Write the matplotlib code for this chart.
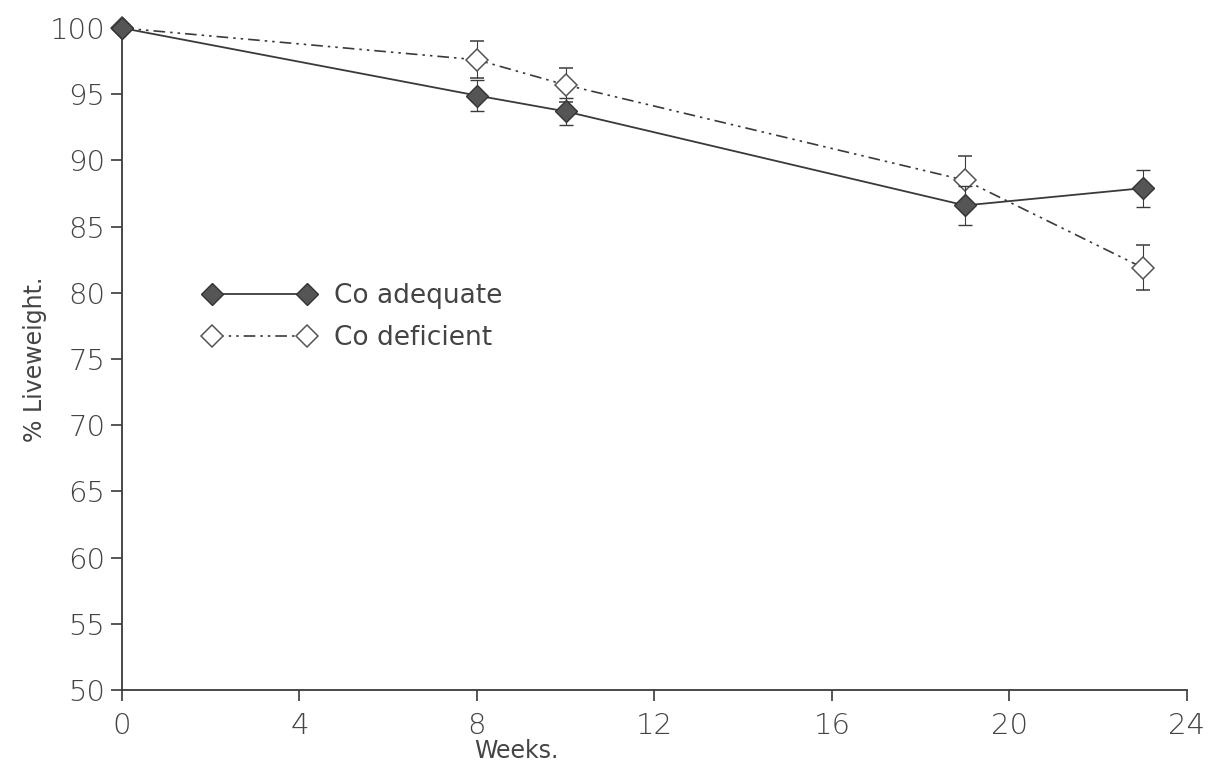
import matplotlib.pyplot as plt
from matplotlib.lines import Line2D

# Liveweight as % of initial, over weeks of the trial
weeks = [0, 8, 10, 19, 23]
co_adequate = [100.0, 94.9, 93.7, 86.6, 87.9]
co_adequate_se = [0.0, 1.2, 1.0, 1.5, 1.4]
co_deficient = [100.0, 97.6, 95.7, 88.5, 81.9]
co_deficient_se = [0.0, 1.4, 1.3, 1.8, 1.7]

x_ticks = [0, 4, 8, 12, 16, 20, 24]
y_ticks = list(range(50, 101, 5))

ink = "#3a3a3a"
dashdot2 = (0, (7, 3, 1.5, 3, 1.5, 3))
plt.rcParams['font.family'] = ['DejaVu Sans']

fig = plt.figure(figsize=(12.22, 7.70), dpi=100)
ax = fig.add_axes([0.0998, 0.104, 0.8715, 0.8596])

adq_style = dict(color=ink, lw=1.3, marker='D', ms=11, mfc='#555555',
                 mec='#333333', mew=1)
def_style = dict(color=ink, lw=1.2, ls=dashdot2, marker='D', ms=11,
                 mfc='white', mec='#555555', mew=1.1)

# deficient drawn first so the filled marker sits on top at week 0
for y, err, style, z in [(co_deficient, co_deficient_se, def_style, 3),
                         (co_adequate, co_adequate_se, adq_style, 4)]:
    cont = ax.errorbar(weeks, y, yerr=err, ecolor=ink, elinewidth=0.8,
                       capsize=5, capthick=1.2, zorder=z, **style)
    for artist in cont.get_children():
        artist.set_clip_on(False)

ax.set_xlim(0, 24)
ax.set_ylim(50, 100)
ax.set_xticks(x_ticks)
ax.set_yticks(y_ticks)
for side in ('top', 'right'):
    ax.spines[side].set_visible(False)
for side in ('left', 'bottom'):
    ax.spines[side].set_color(ink)
    ax.spines[side].set_linewidth(1.3)
ax.tick_params(colors=ink, labelcolor='#444444', labelsize=21,
               length=8, width=1.2, direction='out')
ax.tick_params(axis='x', pad=8)
ax.tick_params(axis='y', pad=4)
for lbl in ax.get_xticklabels() + ax.get_yticklabels():
    lbl.set_fontweight('light')

ax.set_ylabel('% Liveweight.', fontsize=17, color='#444444', labelpad=2)
ax.text(0.37, -0.092, 'Weeks.', transform=ax.transAxes, fontsize=17,
        color='#444444', ha='center', va='center')

# legend entries without the error bars, marker at each end of the line
handles = [Line2D([], [], **adq_style), Line2D([], [], **def_style)]
ax.legend(handles, ['Co adequate', 'Co deficient'], loc='upper left',
          bbox_to_anchor=(0.055, 0.65), frameon=False, numpoints=2,
          handlelength=4.2, fontsize=19, labelcolor='#444444',
          handletextpad=0.7, labelspacing=0.6)

fig.savefig('out.png', dpi=100, facecolor='white')
